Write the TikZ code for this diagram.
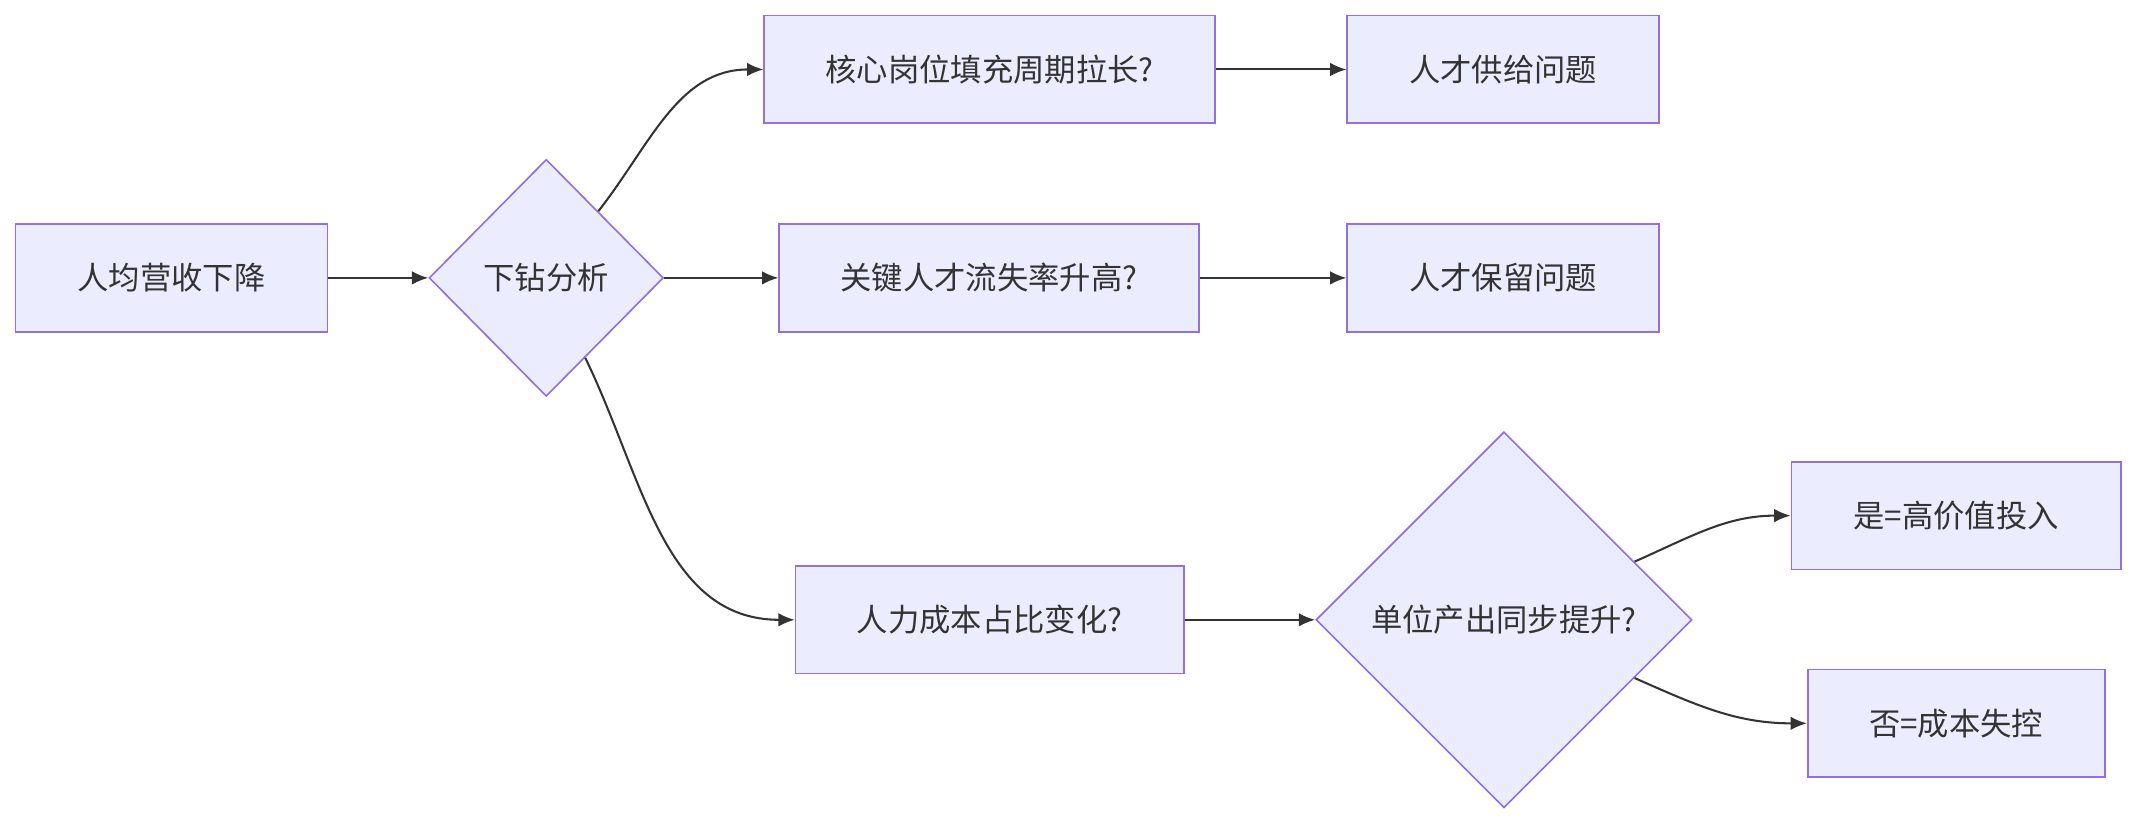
\documentclass[tikz,border=0pt]{standalone}
\usepackage{fontspec}
\setmainfont{Noto Sans CJK SC}
\usetikzlibrary{shapes.geometric,arrows.meta}
\definecolor{boxfill}{HTML}{ECECFF}
\definecolor{boxline}{HTML}{9370DB}
\definecolor{linkcol}{HTML}{333333}
\tikzset{
  box/.style={draw=boxline, fill=boxfill, line width=0.6pt, rectangle, inner sep=0pt,
    minimum height=39.5pt, font=\fontsize{11.5}{14}\selectfont, text=linkcol},
  choice/.style={draw=boxline, fill=boxfill, line width=0.6pt, diamond, inner sep=0pt,
    font=\fontsize{11.5}{14}\selectfont, text=linkcol},
  link/.style={draw=linkcol, line width=0.75pt, -{Latex[length=6pt,width=5pt]}}
}
\begin{document}
\begin{tikzpicture}[x=0.5pt, y=-0.5pt]
  \useasboundingbox (0,0) rectangle (1568,604);
  % start and first decision
  \node[box, minimum width=114.5pt] (drop) at (126,204) {人均营收下降};
  \node[choice, minimum width=86pt, minimum height=87pt] (drill) at (401,204) {下钻分析};
  % three questions
  \node[box, minimum width=165.5pt] (fill) at (726.5,51) {核心岗位填充周期拉长?};
  \node[box, minimum width=154pt] (loss) at (726,204) {关键人才流失率升高?};
  \node[box, minimum width=142.5pt] (cost) at (726.5,455) {人力成本占比变化?};
  % diagnoses
  \node[box, minimum width=114.5pt] (supply) at (1103.5,51) {人才供给问题};
  \node[box, minimum width=114.5pt] (keep) at (1103.5,204) {人才保留问题};
  \node[choice, minimum width=138pt, minimum height=138pt] (output) at (1104,455) {单位产出同步提升?};
  \node[box, minimum width=121pt] (yes) at (1436,378.5) {是=高价值投入};
  \node[box, minimum width=109pt] (no) at (1436,531) {否=成本失控};

  % connectors
  \draw[link] (drop) -- (drill);
  \draw[link] (drill) to[out=52, in=180] (fill.west);
  \draw[link] (drill) -- (loss);
  \draw[link] (drill) to[out=-64, in=180] (cost.west);
  \draw[link] (fill) -- (supply);
  \draw[link] (loss) -- (keep);
  \draw[link] (cost) -- (output);
  \draw[link] (output) to[out=24, in=180] (yes.west);
  \draw[link] (output) to[out=-24, in=180] (no.west);
\end{tikzpicture}
\end{document}
